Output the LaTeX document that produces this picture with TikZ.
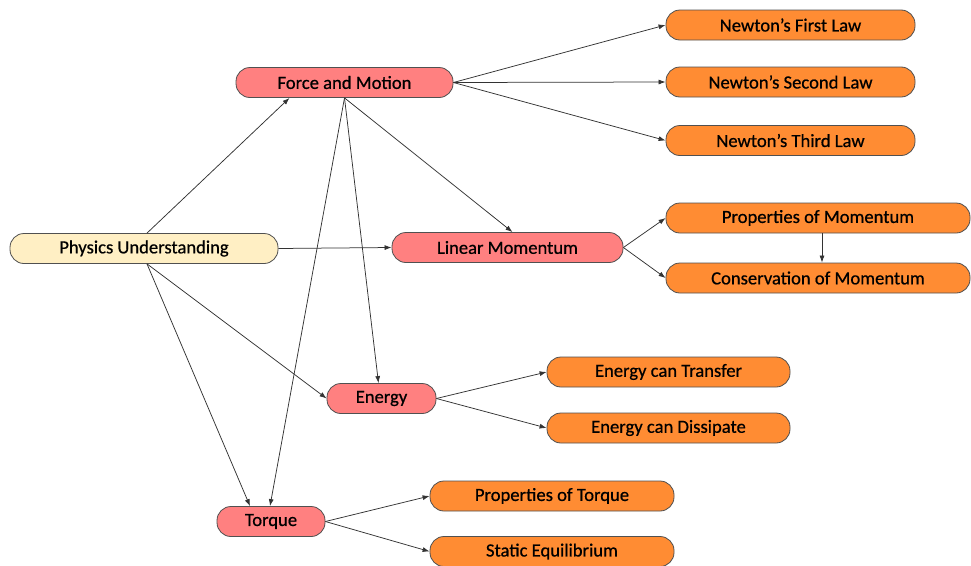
\documentclass[tikz,border=0pt]{standalone}
\usepackage{fontspec}
\setmainfont{Carlito}[FakeBold=0.6]
\usetikzlibrary{arrows.meta}
\definecolor{cream}{HTML}{FFEFC4}
\definecolor{pinkbox}{HTML}{FF8080}
\definecolor{orangebox}{HTML}{FF8C33}
\definecolor{edgegray}{HTML}{505050}
\begin{document}
\begin{tikzpicture}[x=1pt,y=-1pt,
  box/.style={draw=edgegray, line width=0.8pt, rounded corners=14pt, minimum height=30pt, inner sep=0pt, font=\fontsize{18.6}{20}\selectfont},
  root/.style={box, fill=cream},
  topic/.style={box, fill=pinkbox},
  leaf/.style={box, fill=orangebox},
  link/.style={draw=black!80, line width=0.75pt, -{Latex[length=7pt,width=5pt]}}]
\useasboundingbox (0,0) rectangle (971,565);
\node[root, minimum width=268pt] (pu) at (144,248.5) {Physics Understanding};
\node[topic, minimum width=217pt] (fm) at (344.5,82.5) {Force and Motion};
\node[topic, minimum width=231pt] (lm) at (507.5,247.5) {Linear Momentum};
\node[topic, minimum width=109pt] (en) at (381.5,398.5) {Energy};
\node[topic, minimum width=108pt] (tq) at (271,521.5) {Torque};
\node[leaf, minimum width=249pt] (n1) at (790.5,25) {Newton’s First Law};
\node[leaf, minimum width=249pt] (n2) at (790.5,82) {Newton’s Second Law};
\node[leaf, minimum width=249pt] (n3) at (790.5,140.5) {Newton’s Third Law};
\node[leaf, minimum width=304pt] (pm) at (818,218) {Properties of Momentum};
\node[leaf, minimum width=304pt] (cm) at (818,278) {Conservation of Momentum};
\node[leaf, minimum width=243pt] (et) at (668.5,372) {Energy can Transfer};
\node[leaf, minimum width=243pt] (ed) at (668.5,428) {Energy can Dissipate};
\node[leaf, minimum width=244pt] (pt) at (552,496) {Properties of Torque};
\node[leaf, minimum width=244pt] (se) at (552,551.5) {Static Equilibrium};
\draw[link] ([xshift=3pt]pu.north) -- ([xshift=-55pt]fm.south);
\draw[link] (pu.east) -- (lm.west);
\draw[link] ([xshift=3pt]pu.south) -- (en.west);
\draw[link] ([xshift=3pt]pu.south) -- ([xshift=-21pt]tq.north);
\draw[link] (fm.east) -- (n1.west);
\draw[link] (fm.east) -- (n2.west);
\draw[link] (fm.east) -- (n3.west);
\draw[link] (fm.south) -- ([xshift=5pt]lm.north);
\draw[link] (fm.south) -- ([xshift=-3pt]en.north);
\draw[link] (fm.south) -- ([xshift=-1pt]tq.north);
\draw[link] (lm.east) -- (pm.west);
\draw[link] (lm.east) -- (cm.west);
\draw[link] ([xshift=4pt]pm.south) -- ([xshift=4pt]cm.north);
\draw[link] (en.east) -- (et.west);
\draw[link] (en.east) -- (ed.west);
\draw[link] (tq.east) -- (pt.west);
\draw[link] (tq.east) -- (se.west);
\end{tikzpicture}
\end{document}
